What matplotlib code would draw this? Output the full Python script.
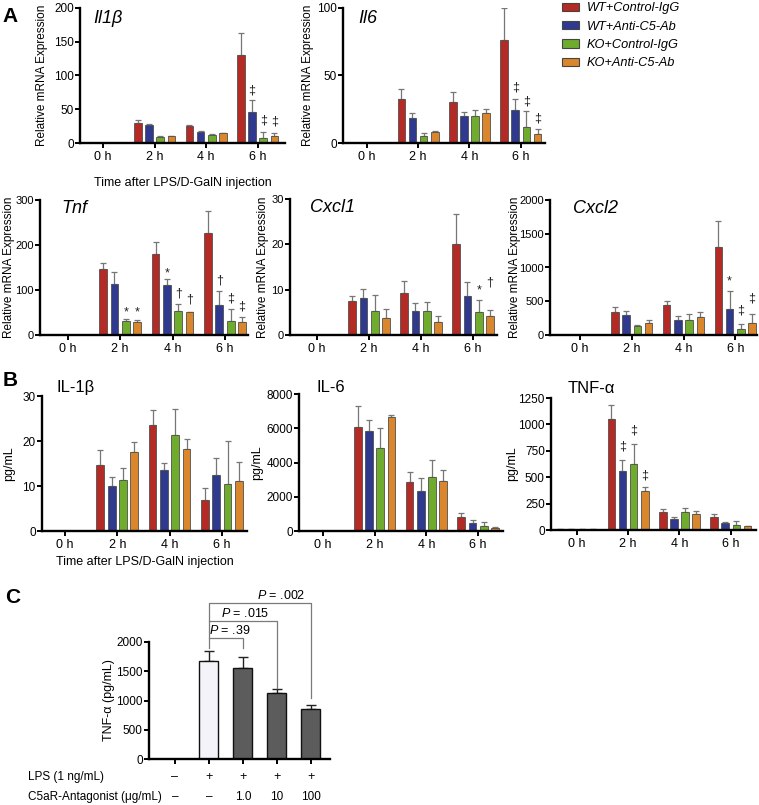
import matplotlib
matplotlib.use('Agg')
import matplotlib.pyplot as plt
import matplotlib.transforms as mtrans
from matplotlib.patches import Patch
import numpy as np

plt.rcParams['font.family'] = ['Liberation Sans', 'DejaVu Sans']
plt.rcParams['mathtext.fontset'] = 'custom'
plt.rcParams['mathtext.it'] = 'Liberation Sans:italic'
plt.rcParams['mathtext.rm'] = 'Liberation Sans'

# ---------------- data ----------------
groups = ['WT+Control-IgG', 'WT+Anti-C5-Ab', 'KO+Control-IgG', 'KO+Anti-C5-Ab']
colors = ['#b42a24', '#2f3a8f', '#6fac2e', '#d9862c']
times = ['0 h', '2 h', '4 h', '6 h']

# Panel A (relative mRNA expression); rows = groups, columns = times
il1b_mean = [[0.5, 30, 25, 130], [0.5, 26, 16, 46], [0.5, 9.5, 11.5, 7], [0.5, 10, 14.5, 10]]
il1b_sem = [[0, 4, 1.5, 33], [0, 2, 1.5, 17], [0, 1, 2, 10], [0, 1, 0.5, 5]]
il1b_marks = [(3, 1, '‡', 78), (3, 2, '‡', 33), (3, 3, '‡', 32)]

il6_mean = [[0.3, 32.6, 30.6, 76], [0.3, 18.8, 20, 24.4], [0.3, 5.2, 19.8, 12], [0.3, 7.9, 22.5, 7]]
il6_sem = [[0, 7.4, 7, 24], [0, 3.7, 2.7, 8.2], [0, 2, 4.6, 12], [0, 0.7, 2.5, 3.5]]
il6_marks = [(3, 1, '‡', 41), (3, 2, '‡', 31), (3, 3, '‡', 18)]

tnf_mean = [[0, 146, 179, 226], [0, 113, 110, 67], [0, 31, 53, 32], [0, 29, 50, 29]]
tnf_sem = [[0, 15, 27, 50], [0, 26, 14, 31], [0, 4, 15, 26], [0, 4, 2, 10]]
tnf_marks = [(1, 2, '*', 50), (1, 3, '*', 50), (2, 1, '*', 137), (2, 2, '†', 93), (2, 3, '†', 78),
             (3, 1, '†', 122), (3, 2, '‡', 81), (3, 3, '‡', 63)]

cxcl1_mean = [[0, 7.5, 9.2, 20.1], [0, 8.1, 5.4, 8.7], [0, 5.4, 5.2, 5.0], [0, 3.8, 2.9, 4.2]]
cxcl1_sem = [[0, 1.1, 2.8, 6.7], [0, 2.1, 1.6, 2.9], [0, 3.4, 2.1, 2.8], [0, 2.0, 1.4, 1.4]]
cxcl1_marks = [(3, 2, '*', 9.8), (3, 3, '†', 11.5)]

cxcl2_mean = [[0, 335, 450, 1300], [0, 290, 220, 390], [0, 140, 225, 95], [0, 185, 265, 175]]
cxcl2_sem = [[0, 80, 50, 390], [0, 60, 55, 260], [0, 15, 80, 75], [0, 40, 70, 130]]
cxcl2_marks = [(3, 1, '*', 800), (3, 2, '‡', 370), (3, 3, '‡', 545)]

# Panel B (serum protein, pg/mL)
il1b_p_mean = [[0, 14.7, 23.5, 6.8], [0, 9.9, 13.5, 12.4], [0, 11.4, 21.4, 10.5], [0, 17.6, 18.3, 11.2]]
il1b_p_sem = [[0, 3.2, 3.5, 2.8], [0, 2.0, 1.7, 3.9], [0, 2.6, 5.8, 9.6], [0, 2.2, 2.2, 4.1]]

il6_p_mean = [[0, 6100, 2850, 790], [0, 5830, 2310, 450], [0, 4830, 3180, 275], [0, 6650, 2900, 200]]
il6_p_sem = [[0, 1175, 590, 270], [0, 650, 800, 180], [0, 1175, 960, 255], [0, 130, 690, 50]]

tnfa_p_mean = [[5, 1050, 169, 120], [5, 560, 100, 62], [5, 627, 166, 49], [5, 373, 156, 36]]
tnfa_p_sem = [[0, 136, 26, 33], [0, 102, 23, 16], [0, 191, 45, 35], [0, 35, 23, 6]]
tnfa_p_marks = [(1, 1, '‡', 790), (1, 2, '‡', 940), (1, 3, '‡', 520)]

# Panel C
c_values = [0, 1680, 1560, 1130, 850]
c_sem = [0, 160, 180, 70, 80]
c_colors = ['#ffffff', '#f4f3fa', '#5c5c5c', '#5c5c5c', '#5c5c5c']
c_lps = ['–', '+', '+', '+', '+']
c_antagonist = ['–', '–', '1.0', '10', '100']
c_pvals = [(1, 2, '.39'), (1, 3, '.015'), (1, 4, '.002')]
c_bracket_tops = [2068, 2359, 2667]
c_bracket_right = [1897, 1214, 1043]
c_ptext_x = [1.6, 2.06, 3.12]

# ---------------- layout ----------------
W, H = 759, 805
fig = plt.figure(figsize=(W / 100, H / 100), dpi=100)


def px_axes(left, top, right, bottom):
    return fig.add_axes([left / W, 1 - bottom / H, (right - left) / W, (bottom - top) / H])


def style(ax, tsize):
    for s in ['top', 'right']:
        ax.spines[s].set_visible(False)
    for s in ['left', 'bottom']:
        ax.spines[s].set_linewidth(1.7)
    ax.tick_params(axis='both', length=3.5, width=1.4, labelsize=tsize, pad=1)
    ax.tick_params(axis='x', labelsize=9, pad=2)


BW = 0.148
STEP = 0.217


def grouped(ax, means, sems, xlim, ylim, yticks, marks=(), tsize=8.5):
    x = np.arange(len(times))
    for g in range(4):
        m = np.array(means[g], dtype=float)
        s = np.array(sems[g], dtype=float)
        xs = x + (g - 1.5) * STEP
        ax.bar(xs, m, width=BW, color=colors[g], edgecolor='#505050', linewidth=0.6, zorder=2)
        ax.errorbar(xs, m, yerr=[np.zeros_like(s), s], fmt='none', ecolor='#767676',
                    elinewidth=0.9, capsize=2.2, capthick=0.9, zorder=1)
    for (t, g, sym, yv) in marks:
        ax.text(t + (g - 1.5) * STEP, yv, sym, ha='center', va='center', fontsize=9, color='#222222')
    ax.set_xlim(*xlim)
    ax.set_ylim(*ylim)
    ax.set_yticks(yticks)
    ax.set_xticks(x)
    ax.set_xticklabels(times)
    style(ax, tsize)


# Row 1 of panel A
ax = px_axes(80, 8, 285, 143)
grouped(ax, il1b_mean, il1b_sem, (-0.45, 3.53), (0, 200), [0, 50, 100, 150, 200], il1b_marks, 8.5)
ax.set_ylabel('Relative mRNA Expression', fontsize=8.5, labelpad=4)
ax.set_xlabel('Time after LPS/D-GalN injection', fontsize=9, labelpad=10)
ax.text(0.063, 0.92, 'Il1β', transform=ax.transAxes, fontsize=13, style='italic', va='center')

ax = px_axes(343, 8, 545, 143)
grouped(ax, il6_mean, il6_sem, (-0.46, 3.47), (0, 100), [0, 50, 100], il6_marks, 8.5)
ax.set_ylabel('Relative mRNA Expression', fontsize=8.5, labelpad=2)
ax.text(0.074, 0.92, 'Il6', transform=ax.transAxes, fontsize=13, style='italic', va='center')

# Row 2 of panel A
ax = px_axes(40, 200, 248, 335)
grouped(ax, tnf_mean, tnf_sem, (-0.53, 3.44), (0, 300), [0, 100, 200, 300], tnf_marks, 8)
ax.set_ylabel('Relative mRNA Expression', fontsize=8.5, labelpad=0)
ax.text(0.105, 0.94, 'Tnf', transform=ax.transAxes, fontsize=13, style='italic', va='center')

ax = px_axes(290, 199, 497, 335)
grouped(ax, cxcl1_mean, cxcl1_sem, (-0.52, 3.46), (0, 30), [0, 10, 20, 30], cxcl1_marks, 8)
ax.set_ylabel('Relative mRNA Expression', fontsize=8.5, labelpad=1.4)
ax.text(0.097, 0.94, 'Cxcl1', transform=ax.transAxes, fontsize=13, style='italic', va='center')

ax = px_axes(550, 200, 757, 335)
grouped(ax, cxcl2_mean, cxcl2_sem, (-0.58, 3.42), (0, 2000), [0, 500, 1000, 1500, 2000], cxcl2_marks, 8)
ax.set_ylabel('Relative mRNA Expression', fontsize=8.5, labelpad=-1.5)
ax.text(0.11, 0.94, 'Cxcl2', transform=ax.transAxes, fontsize=13, style='italic', va='center')

# Panel B
ax = px_axes(42, 396, 247, 531)
grouped(ax, il1b_p_mean, il1b_p_sem, (-0.44, 3.48), (0, 30), [0, 10, 20, 30], tsize=8.5)
ax.set_ylabel('pg/mL', fontsize=9, labelpad=5)
ax.set_xlabel('Time after LPS/D-GalN injection', fontsize=9, labelpad=4)
ax.text(0.073, 1.06, 'IL-1β', transform=ax.transAxes, fontsize=12, va='center')

ax = px_axes(299, 394, 503, 531)
grouped(ax, il6_p_mean, il6_p_sem, (-0.46, 3.48), (0, 8000), [0, 2000, 4000, 6000, 8000], tsize=8.5)
ax.set_ylabel('pg/mL', fontsize=9, labelpad=2)
ax.text(0.088, 1.045, 'IL-6', transform=ax.transAxes, fontsize=12, va='center')

ax = px_axes(551, 398, 756, 530)
grouped(ax, tnfa_p_mean, tnfa_p_sem, (-0.5, 3.49), (0, 1250), [0, 250, 500, 750, 1000, 1250],
        tnfa_p_marks, tsize=8.5)
ax.set_ylabel('pg/mL', fontsize=9, labelpad=0)
ax.text(0.083, 1.075, 'TNF-α', transform=ax.transAxes, fontsize=12, va='center')

# Panel C
ax = px_axes(149, 642, 330, 759)
xc = np.arange(len(c_values))
ax.bar(xc[1:], c_values[1:], width=0.56, color=c_colors[1:], edgecolor='#111111', linewidth=1.0, zorder=2)
ax.errorbar(xc[1:], c_values[1:], yerr=[np.zeros(len(c_sem) - 1), c_sem[1:]], fmt='none',
            ecolor='#222222', elinewidth=1.0, capsize=3.5, capthick=1.0, zorder=1)
ax.set_xlim(-0.76, 4.56)
ax.set_ylim(0, 2000)
ax.set_yticks([0, 500, 1000, 1500, 2000])
ax.set_xticks(xc)
ax.set_xticklabels([])
style(ax, 8.5)
ax.set_ylabel('TNF-α (pg/mL)', fontsize=9, labelpad=1)
prev_top = c_bracket_right[0]
for (a, b, p), top, rb, tx in zip(c_pvals, c_bracket_tops, c_bracket_right, c_ptext_x):
    ax.plot([a, a, b, b], [prev_top, top, top, rb], color='#7a7a7a', lw=0.9, clip_on=False)
    ax.text(tx, top + 130, '$P$ = ' + p, ha='center', va='center', fontsize=9)
    prev_top = top
tr = mtrans.blended_transform_factory(ax.transData, fig.transFigure)
for i in range(len(c_values)):
    fig.text(xc[i], 1 - 777 / H, c_lps[i], transform=tr, ha='center', va='center', fontsize=9)
    fig.text(xc[i], 1 - 797 / H, c_antagonist[i], transform=tr, ha='center', va='center', fontsize=8.5)
fig.text(28 / W, 1 - 777 / H, 'LPS (1 ng/mL)', ha='left', va='center', fontsize=8.5)
fig.text(28 / W, 1 - 797 / H, 'C5aR-Antagonist (μg/mL)', ha='left', va='center', fontsize=8.5)

# Legend
handles = [Patch(facecolor=c, edgecolor='#444444', linewidth=0.8) for c in colors]
fig.legend(handles, groups, loc='upper left', bbox_to_anchor=(561 / W, 1 - 1 / H), frameon=False,
           prop={'style': 'italic', 'size': 9.2}, handlelength=1.3, handleheight=0.6,
           labelspacing=0.5, handletextpad=0.6, borderaxespad=0, borderpad=0.1)

# Panel letters
fig.text(2 / W, 1 - 16 / H, 'A', fontsize=15, fontweight='bold', va='center')
fig.text(3 / W, 1 - 380 / H, 'B', fontsize=15, fontweight='bold', va='center')
fig.text(5 / W, 1 - 597 / H, 'C', fontsize=15, fontweight='bold', va='center')

fig.savefig('out.png', dpi=100)
